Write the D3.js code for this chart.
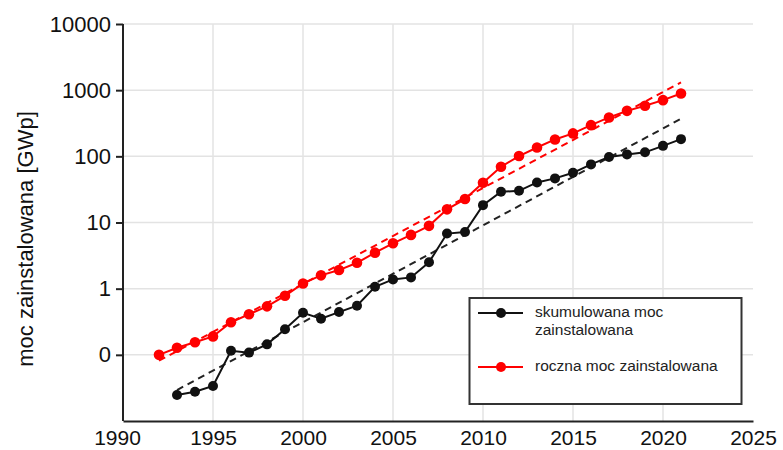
<!DOCTYPE html>
<html>
<head>
<meta charset="utf-8">
<script src="https://cdn.jsdelivr.net/npm/d3@7"></script>
<style>
  body { margin: 0; background: #fff; }
  svg { display: block; font-family: "Liberation Sans", Arial, sans-serif; }
</style>
</head>
<body>
<svg id="chart" width="783" height="450"></svg>
<script>
// data
var years_annual = [1992,1993,1994,1995,1996,1997,1998,1999,2000,2001,2002,2003,2004,2005,2006,2007,2008,2009,2010,2011,2012,2013,2014,2015,2016,2017,2018,2019,2020,2021]
var annual = [0.1,0.128,0.155,0.19,0.31,0.41,0.54,0.78,1.2,1.59,1.91,2.46,3.5,4.85,6.5,8.9,15.8,22.6,39.8,69.5,101,136,180,222,296,387,487,580,706,891]

var years_cum = [1993,1994,1995,1996,1997,1998,1999,2000,2001,2002,2003,2004,2005,2006,2007,2008,2009,2010,2011,2012,2013,2014,2015,2016,2017,2018,2019,2020,2021]
var cumulative = [0.0247,0.0277,0.0338,0.115,0.108,0.144,0.243,0.432,0.351,0.443,0.552,1.07,1.38,1.48,2.5,6.8,7.2,18.3,29.1,30.1,40.3,46.4,56.4,75.5,98,107,115,144,182]

// dashed fit lines (end points)
var trend_annual_years = [1992, 2021]
var trend_annual = [0.0815, 1310]
var trend_cum_years = [1993, 2021]
var trend_cum = [0.0294, 370]

var y_ticks = [10000, 1000, 100, 10, 1, 0.1]
var y_tick_labels = ['10000', '1000', '100', '10', '1', '0']
var x_ticks = [1990, 1995, 2000, 2005, 2010, 2015, 2020, 2025]
var legend_labels = [['skumulowana moc', 'zainstalowana'], ['roczna moc zainstalowana']]
var y_title = 'moc zainstalowana [GWp]'

var svg = d3.select('#chart')

var x = d3.scaleLinear().domain([1990, 2025]).range([123, 753])
var y = d3.scaleLog().domain([0.01, 10000]).range([421, 24])

var grid = '#e3e3e3'

// grid
svg.append('g').selectAll('line.hgrid')
  .data(y_ticks).enter().append('line').attr('class', 'hgrid')
  .attr('x1', x(1990)).attr('x2', x(2025))
  .attr('y1', d => y(d)).attr('y2', d => y(d))
  .attr('stroke', grid).attr('stroke-width', 1.5)

svg.append('g').selectAll('line.vgrid')
  .data(x_ticks.slice(1, -1)).enter().append('line').attr('class', 'vgrid')
  .attr('x1', d => x(d)).attr('x2', d => x(d))
  .attr('y1', y(10000)).attr('y2', y(0.01))
  .attr('stroke', grid).attr('stroke-width', 1.5)

// axes
var yAxis = d3.axisLeft(y).tickValues(y_ticks)
  .tickFormat((d, i) => y_tick_labels[i]).tickSize(7).tickPadding(5)
var gy = svg.append('g').attr('transform', 'translate(' + x(1990) + ',0)').call(yAxis)
gy.select('.domain').attr('stroke', '#222').attr('stroke-width', 2).attr('d', 'M0,' + y(10000) + 'V' + y(0.01))
gy.selectAll('.tick line').attr('stroke', '#222').attr('stroke-width', 2)
gy.selectAll('.tick text').attr('font-size', 22).attr('fill', '#111').attr('font-family', 'Liberation Sans, Arial, sans-serif')

var xAxis = d3.axisBottom(x).tickValues(x_ticks).tickFormat(d3.format('d')).tickSize(0).tickPadding(9)
var gx = svg.append('g').attr('transform', 'translate(0,' + y(0.01) + ')').call(xAxis)
gx.select('.domain').attr('stroke', '#222').attr('stroke-width', 2)
gx.selectAll('.tick text').attr('font-size', 21).attr('fill', '#111').attr('font-family', 'Liberation Sans, Arial, sans-serif')
gx.selectAll('.tick text').filter(d => d == 1990).attr('dx', -6)

// y title
svg.append('text')
  .attr('transform', 'translate(33,' + 239 + ') rotate(-90)')
  .attr('text-anchor', 'middle').attr('font-size', 22).attr('fill', '#111')
  .text(y_title)

// dashed trend lines
var line = d3.line().x(d => x(d[0])).y(d => y(d[1]))
svg.append('path').datum(d3.zip(trend_annual_years, trend_annual))
  .attr('d', line).attr('fill', 'none').attr('stroke', '#f00')
  .attr('stroke-width', 2).attr('stroke-dasharray', '7,5')
svg.append('path').datum(d3.zip(trend_cum_years, trend_cum))
  .attr('d', line).attr('fill', 'none').attr('stroke', '#222')
  .attr('stroke-width', 2).attr('stroke-dasharray', '7,5')

// series
function series(years, vals, color, r) {
  var data = d3.zip(years, vals)
  svg.append('path').datum(data).attr('d', line)
    .attr('fill', 'none').attr('stroke', color).attr('stroke-width', 2)
  svg.append('g').selectAll('circle').data(data).enter().append('circle')
    .attr('cx', d => x(d[0])).attr('cy', d => y(d[1])).attr('r', r)
    .attr('fill', color)
}
series(years_cum, cumulative, '#111', 5)
series(years_annual, annual, '#f00', 5.3)

// legend
var lg = svg.append('g')
lg.append('rect').attr('x', 469.5).attr('y', 298).attr('width', 272).attr('height', 106)
  .attr('fill', '#fff').attr('stroke', '#333').attr('stroke-width', 2)

var legend_colors = ['#111', '#f00']
var legend_y = [313, 367]
legend_labels.forEach(function(lines, i) {
  lg.append('line').attr('x1', 478).attr('x2', 523)
    .attr('y1', legend_y[i]).attr('y2', legend_y[i])
    .attr('stroke', legend_colors[i]).attr('stroke-width', 2)
  lg.append('circle').attr('cx', 501).attr('cy', legend_y[i]).attr('r', 5).attr('fill', legend_colors[i])
  lines.forEach(function(t, j) {
    lg.append('text').attr('x', 535).attr('y', legend_y[i] + 4 + j * 17.5)
      .attr('font-size', 15.5).attr('fill', '#222').text(t)
  })
})
</script>
</body>
</html>
